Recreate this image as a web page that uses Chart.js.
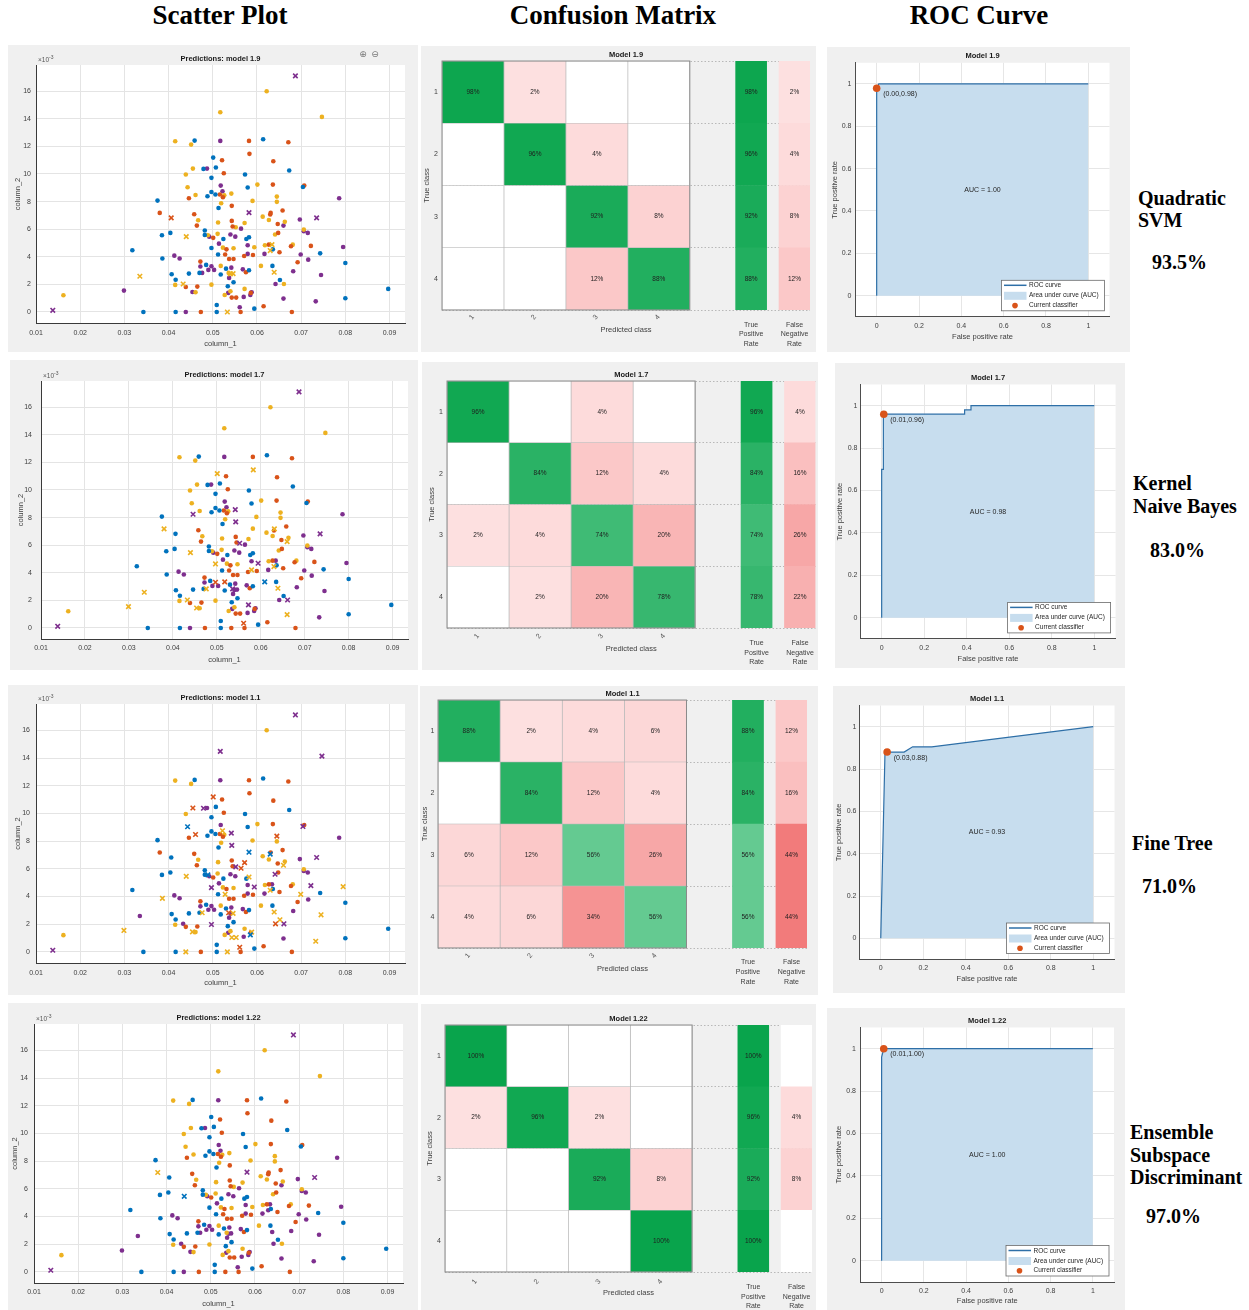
<!DOCTYPE html>
<html>
<head>
<meta charset="utf-8">
<title>Scatter Plot / Confusion Matrix / ROC Curve</title>
<script src="https://cdn.jsdelivr.net/npm/chart.js@4.4.0/dist/chart.umd.min.js"></script>
<style>
  html,body{margin:0;padding:0;background:#ffffff;}
  body{position:relative;width:1249px;height:1310px;overflow:hidden;}
  .panel{position:absolute;background:#f0f0f0;}
  .panel canvas{display:block;}
  .hdr{position:absolute;font-family:"Liberation Serif","Times New Roman",serif;font-weight:bold;font-size:27px;line-height:27px;text-align:center;color:#000;white-space:nowrap;}
  .lbl{position:absolute;font-family:"Liberation Serif","Times New Roman",serif;font-weight:bold;font-size:20px;line-height:20px;color:#000;white-space:nowrap;}
</style>
</head>
<body>
<div class="hdr" style="left:120px;top:2px;width:200px;">Scatter Plot</div>
<div class="hdr" style="left:463px;top:2px;width:300px;">Confusion Matrix</div>
<div class="hdr" style="left:829px;top:2px;width:300px;">ROC Curve</div>

<div class="lbl" style="left:1138px;top:188px;">Quadratic</div>
<div class="lbl" style="left:1138px;top:210px;">SVM</div>
<div class="lbl" style="left:1152px;top:252px;">93.5%</div>

<div class="lbl" style="left:1133px;top:473px;">Kernel</div>
<div class="lbl" style="left:1133px;top:496px;">Naive Bayes</div>
<div class="lbl" style="left:1150px;top:540px;">83.0%</div>

<div class="lbl" style="left:1132px;top:833px;">Fine Tree</div>
<div class="lbl" style="left:1142px;top:876px;">71.0%</div>

<div class="lbl" style="left:1130px;top:1122px;">Ensemble</div>
<div class="lbl" style="left:1130px;top:1145px;">Subspace</div>
<div class="lbl" style="left:1130px;top:1167px;">Discriminant</div>
<div class="lbl" style="left:1146px;top:1206px;">97.0%</div>

<script>
// ---------------- DATA ----------------
const CLASS_COLORS = ['#0072BD', '#D95319', '#EDB120', '#7E2F8E'];
const classLabels = ['1', '2', '3', '4'];

// samples: [column_1, column_2 (x10^-3), true class]
const samples = [
 [0.0138,0.12,3],[0.0162,1.21,3],[0.0299,1.55,4],[0.0318,4.47,1],[0.0335,2.59,4],
 [0.0343,0,1],[0.0375,8.07,1],[0.0380,7.18,2],[0.0385,5.56,1],[0.0386,3.87,1],
 [0.0406,6.82,1],[0.0404,5.73,1],[0.0407,2.73,1],[0.0413,4.08,4],[0.0415,12.37,3],
 [0.0416,2.34,1],[0.0415,1.96,3],[0.0433,2.03,4],[0.0416,0,1],[0.0425,3.87,4],
 [0.0439,1.81,2],[0.0439,0,4],[0.0440,5.46,2],[0.0439,9.96,3],[0.0443,9.04,3],
 [0.0446,8.24,2],[0.0446,2.78,1],[0.0451,12.13,3],[0.0454,1.45,4],[0.0459,12.42,1],
 [0.0455,10.39,3],[0.0458,7.08,2],[0.0461,1.43,3],[0.0461,8.48,3],[0.0464,6.26,2],
 [0.0465,1.84,2],[0.0467,6.65,3],[0.0470,2.83,1],[0.0472,3.65,2],[0.0472,3.29,4],
 [0.0473,0,2],[0.0476,2.83,4],[0.0479,10.37,1],[0.0487,10.39,4],[0.0482,5.90,1],
 [0.0482,5.58,1],[0.0485,3.41,1],[0.0488,8.39,1],[0.0489,5.56,3],[0.0490,3.05,4],
 [0.0492,5.46,4],[0.0497,9.72,1],[0.0497,8.70,1],[0.0497,4.64,1],[0.0497,1.98,3],
 [0.0497,3.31,4],[0.0501,5.37,2],[0.0501,11.19,1],[0.0503,3.05,4],[0.0506,8.51,1],
 [0.0507,10.47,1],[0.0509,0.51,1],[0.0509,0,1],[0.0511,5.66,3],[0.0512,4.16,1],
 [0.0512,6.48,3],[0.0513,7.54,1],[0.0514,4.95,4],[0.0516,8.51,2],[0.0517,14.48,3],
 [0.0517,12.40,4],[0.0518,3.34,3],[0.0518,2.71,1],[0.0519,7.88,3],[0.0518,9.16,4],
 [0.0521,11.00,2],[0.0522,8.75,4],[0.0523,8.31,2],[0.0523,4.66,3],[0.0524,5.29,1],
 [0.0525,10.05,2],[0.0526,8.46,3],[0.0527,1.23,3],[0.0528,4.16,2],[0.0530,3.14,1],
 [0.0531,4.54,2],[0.0533,0,2],[0.0534,1.86,1],[0.0535,1.38,4],[0.0536,2.83,3],
 [0.0537,2.47,4],[0.0537,3.84,2],[0.0540,2.76,4],[0.0540,5.61,4],[0.0540,1.50,3],
 [0.0542,8.58,3],[0.0542,3.21,4],[0.0543,7.69,2],[0.0543,6.60,2],[0.0543,1.04,2],
 [0.0545,6.19,2],[0.0546,2.78,4],[0.0547,4.62,3],[0.0547,3.84,2],[0.0547,2.15,1],
 [0.0551,5.46,4],[0.0552,6.14,3],[0.0553,1.04,2],[0.0561,0.34,4],[0.0563,0,2],
 [0.0564,6.04,4],[0.0568,3.09,4],[0.0570,1.09,4],[0.0571,4.06,2],[0.0572,6.45,3],
 [0.0572,1.67,3],[0.0573,9.96,1],[0.0575,2.88,2],[0.0576,5.29,1],[0.0579,4.83,4],
 [0.0579,4.21,4],[0.0579,9.02,1],[0.0582,12.40,2],[0.0582,7.20,3],[0.0582,5.41,1],
 [0.0583,11.46,2],[0.0582,3.02,1],[0.0585,1.23,4],[0.0586,1.38,2],[0.0588,1.43,4],
 [0.0591,4.13,2],[0.0590,8.05,3],[0.0594,4.69,3],[0.0594,0.24,1],[0.0601,9.23,3],
 [0.0609,3.34,3],[0.0613,6.91,3],[0.0614,12.52,1],[0.0615,0.41,2],[0.0617,4.21,4],
 [0.0618,4.83,3],[0.0622,16.00,3],[0.0627,4.88,2],[0.0627,6.67,3],[0.0630,7.06,2],
 [0.0631,7.18,2],[0.0630,4.45,4],[0.0634,4.88,4],[0.0635,3.34,1],[0.0636,4.54,1],
 [0.0637,10.92,2],[0.0636,9.23,2],[0.0639,2.88,4],[0.0641,5.61,3],[0.0642,2.03,4],
 [0.0645,8.36,3],[0.0645,7.98,3],[0.0647,6.38,2],[0.0648,5.73,2],[0.0651,4.33,2],
 [0.0652,2.32,1],[0.0658,7.35,2],[0.0660,6.26,4],[0.0660,0.97,4],[0.0661,2.03,3],
 [0.0663,6.53,3],[0.0671,12.30,2],[0.0673,10.25,1],[0.0677,4.76,2],[0.0679,0,2],
 [0.0681,4.88,3],[0.0682,2.95,4],[0.0687,17.11,3],[0.0692,3.60,2],[0.0697,6.70,4],
 [0.0699,4.16,4],[0.0704,9.06,1],[0.0707,9.16,2],[0.0706,5.85,4],[0.0706,5.97,3],
 [0.0715,5.73,4],[0.0716,3.79,4],[0.0722,4.79,2],[0.0735,6.82,3],[0.0733,0.77,4],
 [0.0743,4.25,1],[0.0745,2.68,4],[0.0747,14.14,3],[0.0786,8.24,4],[0.0795,4.71,4],
 [0.0800,3.55,1],[0.0800,0.99,1],[0.0897,1.67,1]
];

// misclassified samples per model: [column_1, column_2, predicted class]
const errors_1_9 = [
 [0.0138,0.12,4],[0.0406,6.82,2],[0.0335,2.59,3],[0.0433,2.03,3],[0.0440,5.46,3],
 [0.0533,0,3],[0.0540,2.76,3],[0.0546,2.78,3],[0.0582,7.20,4],[0.0630,4.45,3],
 [0.0634,4.88,3],[0.0639,2.88,3],[0.0687,17.11,4],[0.0735,6.82,4]
];
const errors_1_7 = [
 [0.0138,0.12,4],[0.0299,1.55,3],[0.0335,2.59,3],[0.0380,7.18,3],[0.0440,5.46,3],
 [0.0446,8.24,4],[0.0433,2.03,3],[0.0454,1.45,3],[0.0476,2.83,3],[0.0497,4.64,3],
 [0.0497,3.31,2],[0.0501,11.19,3],[0.0518,3.34,2],[0.0536,2.83,4],[0.0542,8.58,4],
 [0.0543,7.69,4],[0.0552,6.14,4],[0.0583,11.46,3],[0.0561,0.34,2],[0.0572,1.67,4],
 [0.0579,4.21,3],[0.0594,4.69,4],[0.0609,3.34,1],[0.0631,7.18,3],[0.0630,4.45,3],
 [0.0639,2.88,3],[0.0661,2.03,4],[0.0660,0.97,3],[0.0660,6.26,3],[0.0687,17.11,4],
 [0.0735,6.82,4]
];
const errors_1_1 = [
 [0.0138,0.12,4],[0.0299,1.55,3],[0.0386,3.87,3],[0.0439,0,3],[0.0440,5.46,3],
 [0.0443,9.04,1],[0.0455,10.39,2],[0.0454,1.45,3],[0.0461,8.48,2],[0.0476,2.83,3],
 [0.0479,10.37,4],[0.0489,5.56,1],[0.0497,4.64,4],[0.0497,1.98,4],[0.0501,11.19,2],
 [0.0522,8.75,3],[0.0528,4.16,3],[0.0536,2.83,2],[0.0533,0,3],[0.0542,8.58,4],
 [0.0543,7.69,4],[0.0552,6.14,4],[0.0546,2.78,3],[0.0543,1.04,3],[0.0553,1.04,3],
 [0.0561,0.34,2],[0.0564,6.04,2],[0.0572,6.45,2],[0.0582,7.20,1],[0.0585,1.23,1],
 [0.0588,1.43,3],[0.0594,4.69,4],[0.0582,5.41,3],[0.0630,7.06,1],[0.0630,4.45,3],
 [0.0639,2.88,3],[0.0642,2.03,2],[0.0641,5.61,4],[0.0645,8.36,2],[0.0652,2.32,3],
 [0.0661,2.03,4],[0.0660,6.26,3],[0.0687,17.11,4],[0.0699,4.16,3],[0.0704,9.06,4],
 [0.0722,4.79,4],[0.0735,6.82,4],[0.0733,0.77,3],[0.0747,14.14,4],[0.0745,2.68,3],
 [0.0795,4.71,3],[0.0517,14.48,4]
];
const errors_1_22 = [
 [0.0138,0.12,4],[0.0380,7.18,3],[0.0440,5.46,1],[0.0582,7.20,4],[0.0687,17.11,4],[0.0735,6.82,4]
];

// confusion matrices (%), rows = true class, cols = predicted class
const cm_1_9  = [[98,2,0,0],[0,96,4,0],[0,0,92,8],[0,0,12,88]];
const cm_1_7  = [[96,0,4,0],[0,84,12,4],[2,4,74,20],[0,2,20,78]];
const cm_1_1  = [[88,2,4,6],[0,84,12,4],[6,12,56,26],[4,6,34,56]];
const cm_1_22 = [[100,0,0,0],[2,96,2,0],[0,0,92,8],[0,0,0,100]];
const tpr_1_9 = [98,96,92,88],  fnr_1_9 = [2,4,8,12];
const tpr_1_7 = [96,84,74,78],  fnr_1_7 = [4,16,26,22];
const tpr_1_1 = [88,84,56,56],  fnr_1_1 = [12,16,44,44];
const tpr_1_22 = [100,96,92,100], fnr_1_22 = [0,4,8,0];

// ROC curves [FPR, TPR]
const roc_1_9  = [[0,0],[0,0.98],[0.01,1],[1,1]];
const roc_1_7  = [[0,0],[0,0.70],[0.008,0.70],[0.008,0.96],[0.39,0.96],[0.39,0.98],[0.42,0.98],[0.42,1],[1,1]];
const roc_1_1  = [[0,0],[0.02,0.88],[0.11,0.88],[0.15,0.905],[0.24,0.905],[1,1]];
const roc_1_22 = [[0,0],[0,0.96],[0.01,1],[1,1]];
const op_1_9 = [0.00,0.98], op_1_7 = [0.01,0.96], op_1_1 = [0.03,0.88], op_1_22 = [0.01,1.00];
const auc_1_9 = 1.00, auc_1_7 = 0.98, auc_1_1 = 0.93, auc_1_22 = 1.00;

const scatterXTicks = [0.01,0.02,0.03,0.04,0.05,0.06,0.07,0.08,0.09];
const scatterYTicks = [0,2,4,6,8,10,12,14,16];
const rocTicks = [0,0.2,0.4,0.6,0.8,1];

const models = [
 {name:'1.9',  errors:errors_1_9,  cm:cm_1_9,  tpr:tpr_1_9,  fnr:fnr_1_9,  roc:roc_1_9,  op:op_1_9,  auc:auc_1_9},
 {name:'1.7',  errors:errors_1_7,  cm:cm_1_7,  tpr:tpr_1_7,  fnr:fnr_1_7,  roc:roc_1_7,  op:op_1_7,  auc:auc_1_7},
 {name:'1.1',  errors:errors_1_1,  cm:cm_1_1,  tpr:tpr_1_1,  fnr:fnr_1_1,  roc:roc_1_1,  op:op_1_1,  auc:auc_1_1},
 {name:'1.22', errors:errors_1_22, cm:cm_1_22, tpr:tpr_1_22, fnr:fnr_1_22, roc:roc_1_22, op:op_1_22, auc:auc_1_22}
];

// ---------------- LAYOUT ----------------
const scatterLayout = [
 {panel:[8,45,410,307],  area:[36,65,405,323],   yTickPad:5, yTitlePad:5,   xTickPad:5.5, xTitlePad:4},
 {panel:[10,360,408,310],area:[41,381,408,639],  yTickPad:9, yTitlePad:6,   xTickPad:4.5, xTitlePad:6},
 {panel:[8,685,410,310], area:[36,704,405,963],  yTickPad:6, yTitlePad:5,   xTickPad:5.5, xTitlePad:7.5},
 {panel:[8,1003,410,307],area:[34,1024,403,1283],yTickPad:6, yTitlePad:2.5, xTickPad:5,   xTitlePad:2}
];
const cmLayout = [
 {panel:[421,46,395,306],  area:[442,61,810,310],    yTickPad:4,   yTitlePad:1.2, xTickPad:-5,   xTitlePad:18, rateDy:[15,24.5,34]},
 {panel:[422,362,396,308], area:[447,381,815.5,628], yTickPad:4,   yTitlePad:5,   xTickPad:-4,   xTitlePad:17, rateDy:[14.7,24.7,34.3]},
 {panel:[420,686,398,309], area:[438,700,807,948],   yTickPad:3.5, yTitlePad:0,   xTickPad:-4.5, xTitlePad:22, rateDy:[14.3,24.3,33.7]},
 {panel:[421,1004,395,306],area:[445,1025,812,1272], yTickPad:4,   yTitlePad:4,   xTickPad:-2.5, xTitlePad:13, rateDy:[15,25,34.3]}
];
const rocLayout = [
 {panel:[827,47,303,305],  area:[855.5,62.8,1109.5,316.8],  yTickPad:4,   yTitlePad:3.5, xTickPad:4.7, xTitlePad:11},
 {panel:[835,363,290,305], area:[860.4,384.5,1115.6,638.9], yTickPad:3,   yTitlePad:0.5, xTickPad:4.5, xTitlePad:5},
 {panel:[833,686,292,307], area:[859.5,705.5,1114.5,959.5], yTickPad:3,   yTitlePad:1,   xTickPad:4.5, xTitlePad:10},
 {panel:[827,1008,298,302],area:[860.5,1027.5,1114,1282],   yTickPad:4.5, yTitlePad:7,   xTickPad:4.5, xTitlePad:4.5}
];
const TPR_SPAN = [4.74, 5.24], FNR_SPAN = [5.44, 5.94], CM_XMAX = 5.94;

// ---------------- HELPERS ----------------
Chart.defaults.font.family = '"Liberation Sans", Arial, Helvetica, sans-serif';
Chart.defaults.font.size = 7;
Chart.defaults.color = '#404040';
const FONT = '"Liberation Sans", Arial, Helvetica, sans-serif';

function makePanel(p) {
  const div = document.createElement('div');
  div.className = 'panel';
  div.style.left = p[0] + 'px'; div.style.top = p[1] + 'px';
  div.style.width = p[2] + 'px'; div.style.height = p[3] + 'px';
  const cv = document.createElement('canvas');
  cv.width = p[2]; cv.height = p[3];
  cv.style.width = p[2] + 'px'; cv.style.height = p[3] + 'px';
  div.appendChild(cv);
  document.body.appendChild(div);
  return cv;
}
function pin(L) {
  const [px, py, pw, ph] = L.panel, [l, t, r, b] = L.area;
  return {padding:{left:0, top:t - py, right:px + pw - r, bottom:0}, yw:l - px, xh:py + ph - b};
}
function baseOpts(P) {
  return {responsive:false, animation:false, devicePixelRatio:1, events:[],
    layout:{padding:P.padding},
    plugins:{legend:{display:false}, tooltip:{enabled:false}, title:{display:false}}};
}
const whiteArea = {id:'whiteArea', beforeDraw(chart) {
  const {ctx, chartArea:a} = chart;
  ctx.save(); ctx.fillStyle = '#ffffff';
  ctx.fillRect(a.left, a.top, a.right - a.left, a.bottom - a.top); ctx.restore();
}};
function cellColor(p, diag) {
  if (!p) return '#ffffff';
  if (diag) return `rgb(${Math.round(216 - 2.07 * p)},${Math.round(250 - 0.857 * p)},${Math.round(233 - 1.57 * p)})`;
  const gb = Math.max(0, Math.round(229 - 2.4 * p));
  return `rgb(${Math.round(254 - 0.27 * p)},${gb},${gb})`;
}
function fmtRoc(v) { return v === 0 ? '0' : (v === 1 ? '1' : v.toFixed(1)); }

// ---------------- SCATTER ----------------
function drawScatter(k) {
  const L = scatterLayout[k], P = pin(L), m = models[k];
  const cv = makePanel(L.panel);
  const errs = m.errors;
  const isErr = s => errs.some(e => e[0] === s[0] && e[1] === s[1]);
  const ds = [];
  for (let c = 1; c <= 4; c++) ds.push({
    data: errs.filter(e => e[2] === c).map(e => ({x:e[0], y:e[1]})),
    pointStyle:'crossRot', pointRadius:3.2, borderWidth:1.6,
    borderColor:CLASS_COLORS[c - 1], backgroundColor:CLASS_COLORS[c - 1]});
  for (let c = 1; c <= 4; c++) ds.push({
    data: samples.filter(s => s[2] === c && !isErr(s)).map(s => ({x:s[0], y:s[1]})),
    pointStyle:'circle', pointRadius:2.3, borderWidth:0, backgroundColor:CLASS_COLORS[c - 1]});
  const deco = {id:'sdeco', afterDraw(chart) {
    const {ctx, chartArea:a} = chart;
    ctx.save();
    ctx.fillStyle = '#1a1a1a'; ctx.textAlign = 'center'; ctx.textBaseline = 'middle';
    ctx.font = 'bold 7.5px ' + FONT;
    ctx.fillText('Predictions: model ' + m.name, (a.left + a.right) / 2, a.top - 6.5);
    ctx.fillStyle = '#555'; ctx.textAlign = 'left'; ctx.textBaseline = 'alphabetic';
    ctx.font = '6.5px ' + FONT;
    ctx.fillText('\u00d710', a.left + 2, a.top - 3);
    const w = ctx.measureText('\u00d710').width;
    ctx.font = '5px ' + FONT;
    ctx.fillText('-3', a.left + 2 + w, a.top - 6);
    if (k === 0) {
      ctx.font = '9px "DejaVu Sans"'; ctx.fillStyle = '#777'; ctx.textAlign = 'center'; ctx.textBaseline = 'middle';
      ctx.fillText('\u2295', 355, 10); ctx.fillText('\u2296', 367, 10);
    }
    ctx.restore();
  }};
  new Chart(cv, {type:'scatter', data:{datasets:ds}, options:Object.assign(baseOpts(P), {
    scales:{
      x:{type:'linear', min:0.01, max:0.0935,
         afterBuildTicks:a => { a.ticks = scatterXTicks.map(v => ({value:v})); },
         afterFit:a => { a.height = P.xh; },
         ticks:{autoSkip:false, maxRotation:0, padding:L.xTickPad, callback:v => Number(v).toFixed(2)},
         grid:{color:'#e4e4e4', drawTicks:false}, border:{color:'#3a3a3a'},
         title:{display:true, text:'column_1', font:{size:7.5}, padding:{top:0, bottom:L.xTitlePad}}},
      y:{type:'linear', min:-0.8, max:17.9,
         afterBuildTicks:a => { a.ticks = scatterYTicks.map(v => ({value:v})); },
         afterFit:a => { a.width = P.yw; },
         ticks:{autoSkip:false, padding:L.yTickPad, callback:v => String(v)},
         grid:{color:'#e4e4e4', drawTicks:false}, border:{color:'#3a3a3a'},
         title:{display:true, text:'column_2', font:{size:7.5}, padding:{top:L.yTitlePad, bottom:0}}}
    }}), plugins:[whiteArea, deco]});
}

// ---------------- CONFUSION MATRIX ----------------
function drawCM(k) {
  const L = cmLayout[k], P = pin(L), m = models[k];
  const cv = makePanel(L.panel);
  const common = {grouped:false, barPercentage:1, categoryPercentage:1, borderSkipped:false};
  const ds = [];
  for (let j = 0; j < 4; j++) ds.push(Object.assign({
    data: m.cm.map(() => [j, j + 1]), pct: m.cm.map(row => row[j]),
    backgroundColor: m.cm.map((row, i) => cellColor(row[j], i === j)),
    borderColor:'#bababa', borderWidth:0.7}, common));
  ds.push(Object.assign({data: m.tpr.map(() => TPR_SPAN), pct:m.tpr,
    backgroundColor: m.tpr.map(v => cellColor(v, true)), borderWidth:0}, common));
  ds.push(Object.assign({data: m.fnr.map(() => FNR_SPAN), pct:m.fnr,
    backgroundColor: m.fnr.map(v => cellColor(v, false)), borderWidth:0}, common));
  const deco = {id:'cmdeco',
    afterDatasetsDraw(chart) {
      const {ctx} = chart;
      ctx.save();
      ctx.font = '6.5px ' + FONT; ctx.fillStyle = '#1e1e1e';
      ctx.textAlign = 'center'; ctx.textBaseline = 'middle';
      chart.data.datasets.forEach((d, di) => {
        chart.getDatasetMeta(di).data.forEach((bar, i) => {
          const v = d.pct[i];
          if (v > 0) { const c = bar.getCenterPoint(); ctx.fillText(v + '%', c.x, c.y); }
        });
      });
      const xs = chart.scales.x, a = chart.chartArea;
      ctx.strokeStyle = '#8a8a8a'; ctx.lineWidth = 1;
      const x0 = xs.getPixelForValue(0), x1 = xs.getPixelForValue(4);
      ctx.strokeRect(x0, a.top, x1 - x0, a.bottom - a.top);
      ctx.restore();
    },
    afterDraw(chart) {
      const {ctx, chartArea:a} = chart, xs = chart.scales.x;
      ctx.save();
      ctx.fillStyle = '#1a1a1a'; ctx.textAlign = 'center'; ctx.textBaseline = 'middle';
      ctx.font = 'bold 7.5px ' + FONT;
      ctx.fillText('Model ' + m.name, (a.left + a.right) / 2, a.top - 6);
      ctx.font = '7px ' + FONT; ctx.fillStyle = '#404040';
      const tx = xs.getPixelForValue((TPR_SPAN[0] + TPR_SPAN[1]) / 2);
      const fx = xs.getPixelForValue((FNR_SPAN[0] + FNR_SPAN[1]) / 2);
      ['True', 'Positive', 'Rate'].forEach((s, i) => ctx.fillText(s, tx, a.bottom + L.rateDy[i]));
      ['False', 'Negative', 'Rate'].forEach((s, i) => ctx.fillText(s, fx, a.bottom + L.rateDy[i]));
      ctx.restore();
    }};
  new Chart(cv, {type:'bar', data:{labels:classLabels, datasets:ds}, options:Object.assign(baseOpts(P), {
    indexAxis:'y',
    scales:{
      x:{type:'linear', min:0, max:CM_XMAX,
         afterBuildTicks:a => { a.ticks = [0.5, 1.5, 2.5, 3.5].map(v => ({value:v})); },
         afterFit:a => { a.height = P.xh; },
         ticks:{autoSkip:false, minRotation:50, maxRotation:50, padding:L.xTickPad, color:'#555',
                callback:v => classLabels[Math.floor(v)]},
         grid:{display:false}, border:{display:false},
         title:{display:true, text:'Predicted class', font:{size:7.5}, padding:{top:0, bottom:L.xTitlePad}}},
      y:{type:'category', offset:true,
         afterFit:a => { a.width = P.yw; },
         ticks:{padding:L.yTickPad},
         grid:{offset:true, color:'#b8b8b8', drawTicks:false}, border:{display:false, dash:[1.5, 2]},
         title:{display:true, text:'True class', font:{size:7.5}, padding:{top:L.yTitlePad, bottom:0}}}
    }}), plugins:[deco]});
}

// ---------------- ROC ----------------
function drawROC(k) {
  const L = rocLayout[k], P = pin(L), m = models[k];
  const cv = makePanel(L.panel);
  const LINE = '#2E6FA7', FILL = '#C7DDEE', DOT = '#D95319';
  const ds = [
    {data:[{x:m.op[0], y:m.op[1]}], showLine:false, pointRadius:3.8, pointBorderWidth:0,
     pointBackgroundColor:DOT, backgroundColor:DOT, borderColor:DOT},
    {data:m.roc.map(p => ({x:p[0], y:p[1]})), fill:'origin', backgroundColor:FILL,
     borderColor:LINE, borderWidth:1.2, pointRadius:0, tension:0}
  ];
  const deco = {id:'rocdeco', afterDraw(chart) {
    const {ctx, chartArea:a, scales:{x, y}} = chart;
    ctx.save();
    ctx.fillStyle = '#1a1a1a'; ctx.textAlign = 'center'; ctx.textBaseline = 'middle';
    ctx.font = 'bold 7.5px ' + FONT;
    ctx.fillText('Model ' + m.name, (a.left + a.right) / 2, a.top - 7);
    ctx.font = '7px ' + FONT; ctx.fillStyle = '#262626';
    ctx.fillText('AUC = ' + m.auc.toFixed(2), x.getPixelForValue(0.5), y.getPixelForValue(0.5));
    ctx.textAlign = 'left';
    ctx.fillText('(' + m.op[0].toFixed(2) + ',' + m.op[1].toFixed(2) + ')',
      x.getPixelForValue(m.op[0]) + 6.5, y.getPixelForValue(m.op[1]) + 5.5);
    // legend box
    const bw = 103, bh = 30.5, x0 = a.right - 5 - bw, y0 = a.bottom - 6 - bh;
    ctx.fillStyle = '#ffffff'; ctx.fillRect(x0, y0, bw, bh);
    ctx.strokeStyle = '#6a6a6a'; ctx.lineWidth = 0.8; ctx.strokeRect(x0, y0, bw, bh);
    ctx.strokeStyle = LINE; ctx.lineWidth = 1.5;
    ctx.beginPath(); ctx.moveTo(x0 + 2.5, y0 + 5); ctx.lineTo(x0 + 25, y0 + 5); ctx.stroke();
    ctx.fillStyle = FILL; ctx.fillRect(x0 + 2.5, y0 + 11.5, 22.5, 8);
    ctx.fillStyle = DOT; ctx.beginPath(); ctx.arc(x0 + 13.5, y0 + 25.3, 2.8, 0, Math.PI * 2); ctx.fill();
    ctx.fillStyle = '#262626'; ctx.font = '6.5px ' + FONT;
    ctx.fillText('ROC curve', x0 + 27.5, y0 + 5.3);
    ctx.fillText('Area under curve (AUC)', x0 + 27.5, y0 + 15.3);
    ctx.fillText('Current classifier', x0 + 27.5, y0 + 24.8);
    ctx.restore();
  }};
  new Chart(cv, {type:'line', data:{datasets:ds}, options:Object.assign(baseOpts(P), {
    scales:{
      x:{type:'linear', min:-0.1, max:1.1,
         afterBuildTicks:a => { a.ticks = rocTicks.map(v => ({value:v})); },
         afterFit:a => { a.height = P.xh; },
         ticks:{autoSkip:false, maxRotation:0, padding:L.xTickPad, callback:v => fmtRoc(v)},
         grid:{color:'#e6e6e6', drawTicks:false}, border:{color:'#4d4d4d'},
         title:{display:true, text:'False positive rate', font:{size:7.5}, padding:{top:0, bottom:L.xTitlePad}}},
      y:{type:'linear', min:-0.1, max:1.1,
         afterBuildTicks:a => { a.ticks = rocTicks.map(v => ({value:v})); },
         afterFit:a => { a.width = P.yw; },
         ticks:{autoSkip:false, padding:L.yTickPad, callback:v => fmtRoc(v)},
         grid:{color:'#e6e6e6', drawTicks:false}, border:{color:'#4d4d4d'},
         title:{display:true, text:'True positive rate', font:{size:7.5}, padding:{top:L.yTitlePad, bottom:0}}}
    }}), plugins:[whiteArea, deco]});
}

for (let k = 0; k < 4; k++) { drawScatter(k); drawCM(k); drawROC(k); }
</script>
</body>
</html>
